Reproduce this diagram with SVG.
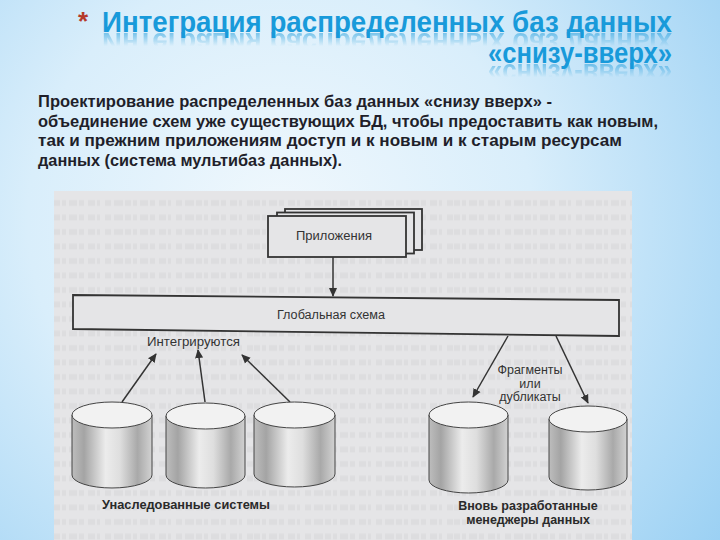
<svg xmlns="http://www.w3.org/2000/svg" width="720" height="540" viewBox="0 0 720 540">
<defs>
  <radialGradient id="bg" cx="280" cy="220" r="560" gradientUnits="userSpaceOnUse">
    <stop offset="0" stop-color="#f0f8fd"/>
    <stop offset="0.45" stop-color="#d9eefb"/>
    <stop offset="1" stop-color="#98cff3"/>
  </radialGradient>
  <linearGradient id="cyl" x1="0" y1="0" x2="1" y2="0">
    <stop offset="0" stop-color="#bdbdbd"/>
    <stop offset="0.15" stop-color="#a4a4a4"/>
    <stop offset="0.42" stop-color="#ececec"/>
    <stop offset="0.6" stop-color="#dedede"/>
    <stop offset="0.82" stop-color="#a9a9a9"/>
    <stop offset="1" stop-color="#d2d2d2"/>
  </linearGradient>
  <linearGradient id="fadeG" x1="0" y1="0" x2="0" y2="1">
    <stop offset="0" stop-color="#fff" stop-opacity="0.55"/>
    <stop offset="1" stop-color="#fff" stop-opacity="0"/>
  </linearGradient>
  <mask id="fade1" maskUnits="userSpaceOnUse" x="0" y="32" width="720" height="16">
    <rect x="0" y="32" width="720" height="14" fill="url(#fadeG)"/>
  </mask>
  <mask id="fade2" maskUnits="userSpaceOnUse" x="0" y="63" width="720" height="16">
    <rect x="0" y="63" width="720" height="14" fill="url(#fadeG)"/>
  </mask>
  <pattern id="bleed" x="54" y="196" width="200" height="14.5" patternUnits="userSpaceOnUse">
    <line x1="0" y1="7" x2="200" y2="7" stroke="#d8d8da" stroke-width="6" stroke-dasharray="6 2 4 3 8 2 5 4 7 2 3 5 6 3 9 2"/>
  </pattern>
  <marker id="arr" viewBox="0 0 10 10" refX="9" refY="5" markerWidth="9" markerHeight="9" markerUnits="userSpaceOnUse" orient="auto">
    <path d="M0,0.5 L10,5 L0,9.5 Z" fill="#333"/>
  </marker>
  <style>
    .title{font-family:"Liberation Sans",Arial,sans-serif;font-weight:bold;font-size:29px;fill:#189ada;}
    .para{font-family:"Liberation Sans",Arial,sans-serif;font-weight:bold;font-size:17px;fill:#1f1f2a;}
    .lbl{font-family:"Liberation Sans",Arial,sans-serif;font-size:12.5px;fill:#333;}
    .blbl{font-family:"Liberation Sans",Arial,sans-serif;font-weight:bold;font-size:12.5px;fill:#2a2a2a;}
    .box{fill:#e5e5e7;stroke:#333;stroke-width:1.8;}
    .body{fill:url(#cyl);stroke:#444;stroke-width:1;}
    .top{fill:#f2f2f2;stroke:#444;stroke-width:1;}
    .conn{stroke:#333;stroke-width:1.5;fill:none;marker-end:url(#arr);}
  </style>
</defs>

<rect x="0" y="0" width="720" height="540" fill="url(#bg)"/>

<g id="title">
  <text class="title" x="78" y="30" style="fill:#b5392a;font-size:26px">*</text>
  <text class="title" x="102" y="32" textLength="570" lengthAdjust="spacingAndGlyphs">Интеграция  распределенных  баз данных</text>
  <text class="title" x="488" y="63" textLength="184" lengthAdjust="spacingAndGlyphs">«снизу-вверх»</text>
  <g mask="url(#fade1)">
    <text class="title" x="102" y="32" transform="matrix(1,0,0,-1,0,65)" textLength="570" lengthAdjust="spacingAndGlyphs">Интеграция  распределенных  баз данных</text>
  </g>
  <g mask="url(#fade2)">
    <text class="title" x="488" y="63" transform="matrix(1,0,0,-1,0,127)" textLength="184" lengthAdjust="spacingAndGlyphs">«снизу-вверх»</text>
  </g>
</g>

<g id="paragraph">
  <text class="para" x="38" y="107" textLength="514" lengthAdjust="spacingAndGlyphs">Проектирование распределенных баз данных «снизу вверх» -</text>
  <text class="para" x="38" y="127" textLength="620" lengthAdjust="spacingAndGlyphs">объединение схем уже существующих БД, чтобы предоставить как новым,</text>
  <text class="para" x="38" y="146" textLength="584" lengthAdjust="spacingAndGlyphs">так и прежним приложениям доступ и к новым и к старым ресурсам</text>
  <text class="para" x="38" y="166" textLength="304" lengthAdjust="spacingAndGlyphs">данных (система мультибаз данных).</text>
</g>

<g id="scan">
  <rect x="54" y="191" width="578" height="349" fill="#e5e5e7"/>
  <rect x="54" y="196" width="578" height="344" fill="url(#bleed)" opacity="0.6"/>
</g>

<g id="connectors">
  <line class="conn" x1="333" y1="257" x2="333" y2="296"/>
  <line class="conn" x1="122" y1="402" x2="156" y2="354"/>
  <line class="conn" x1="205" y1="402" x2="198" y2="350"/>
  <line class="conn" x1="290" y1="402" x2="242" y2="355"/>
  <line class="conn" x1="508" y1="336" x2="473" y2="397"/>
  <line class="conn" x1="556" y1="336" x2="588" y2="403"/>
</g>

<g id="applications">
  <rect class="box" x="285" y="209" width="137" height="41"/>
  <rect class="box" x="277" y="212.5" width="137" height="41"/>
  <rect class="box" x="268" y="216" width="138" height="41"/>
  <text class="lbl" x="296" y="240" textLength="76" lengthAdjust="spacingAndGlyphs">Приложения</text>
</g>

<g id="global-schema">
  <polygon class="box" points="73,295 619,300 619,336 73,329"/>
  <text class="lbl" x="277" y="319" textLength="108" lengthAdjust="spacingAndGlyphs">Глобальная схема</text>
</g>

<g id="integrated-label">
  <text class="lbl" x="147" y="346" textLength="93" lengthAdjust="spacingAndGlyphs">Интегрируются</text>
</g>

<g id="fragments-label">
  <text class="lbl" x="530" y="374" text-anchor="middle">Фрагменты</text>
  <text class="lbl" x="530" y="388" text-anchor="middle">или</text>
  <text class="lbl" x="530" y="401" text-anchor="middle">дубликаты</text>
</g>

<g id="db1">
  <path class="body" d="M72,415 V475 A40,13 0 0 0 152,475 V415 Z"/>
  <ellipse class="top" cx="112" cy="415" rx="40" ry="13"/>
</g>
<g id="db2">
  <path class="body" d="M166,416 V475 A39.5,13 0 0 0 245,475 V416 Z"/>
  <ellipse class="top" cx="205.5" cy="416" rx="39.5" ry="13"/>
</g>
<g id="db3">
  <path class="body" d="M254,415 V474 A40.5,13 0 0 0 335,474 V415 Z"/>
  <ellipse class="top" cx="294.5" cy="415" rx="40.5" ry="13"/>
</g>
<g id="db4">
  <path class="body" d="M429,415 V480 A39.5,13 0 0 0 508,480 V415 Z"/>
  <ellipse class="top" cx="468.5" cy="415" rx="39.5" ry="13"/>
</g>
<g id="db5">
  <path class="body" d="M549,419 V477 A39,13 0 0 0 627,477 V419 Z"/>
  <ellipse class="top" cx="588" cy="419" rx="39" ry="13"/>
</g>

<g id="legacy-label">
  <text class="blbl" x="102" y="509" textLength="168" lengthAdjust="spacingAndGlyphs">Унаследованные системы</text>
</g>
<g id="new-label">
  <text class="blbl" x="528" y="510" text-anchor="middle">Вновь разработанные</text>
  <text class="blbl" x="528" y="524" text-anchor="middle">менеджеры данных</text>
</g>
</svg>
